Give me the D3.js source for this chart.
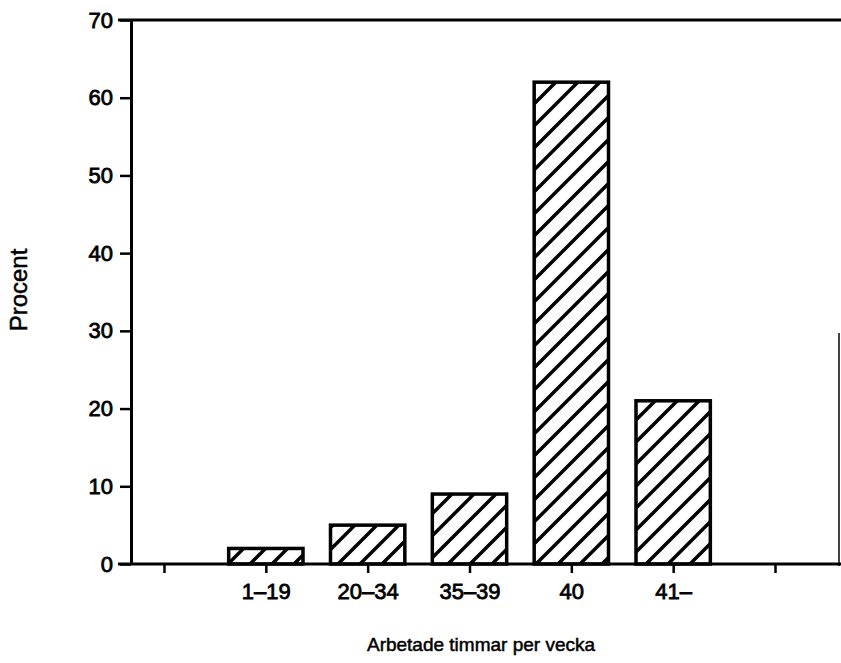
<!DOCTYPE html>
<html>
<head>
<meta charset="utf-8">
<title>Arbetade timmar per vecka</title>
<script src="https://d3js.org/d3.v7.min.js"></script>
<style>
  * { margin: 0; padding: 0; }
  body { background: #fff; }
  svg text { font-family: "Liberation Sans", Arial, sans-serif; fill: #000; }
</style>
</head>
<body>
<div id="chart"></div>
<script>
// data
const categories = ["1–19", "20–34", "35–39", "40", "41–"];
const values = [2, 5, 9, 62, 21];
const yTicks = [0, 10, 20, 30, 40, 50, 60, 70];

const width = 841, height = 663;

const svg = d3.select("#chart").append("svg")
  .attr("width", width)
  .attr("height", height);

// hatch pattern
const defs = svg.append("defs");
const h = 22;
defs.append("pattern")
  .attr("id", "hatch")
  .attr("patternUnits", "userSpaceOnUse")
  .attr("width", h).attr("height", h)
  .append("path")
  .attr("d", `M0,${h} L${h},0 M${-h/2},${h/2} L${h/2},${-h/2} M${h/2},${h*1.5} L${h*1.5},${h/2}`)
  .attr("stroke", "#000")
  .attr("stroke-width", 3.5);

// scales: empty slot before and after the categories
const slots = ["_a", ...categories, "_b"];
const x = d3.scalePoint().domain(slots).range([164, 775]);
const y = d3.scaleLinear().domain([0, 70]).range([564, 20]);
const barW = x.step() * 0.73;

// frame lines
svg.append("line")
  .attr("x1", 118).attr("x2", 841)
  .attr("y1", y(70)).attr("y2", y(70))
  .attr("stroke", "#000").attr("stroke-width", 3);

svg.append("line")
  .attr("x1", 839).attr("x2", 839)
  .attr("y1", 333).attr("y2", y(0) + 2)
  .attr("stroke", "#444").attr("stroke-width", 2);

// bars
svg.selectAll("rect.bar")
  .data(values)
  .join("rect")
  .attr("class", "bar")
  .attr("x", (d, i) => x(categories[i]) - barW / 2)
  .attr("y", d => y(d))
  .attr("width", barW)
  .attr("height", d => y(0) - y(d))
  .attr("fill", "url(#hatch)")
  .attr("stroke", "#000")
  .attr("stroke-width", 3.5);

// baseline
svg.append("line")
  .attr("x1", 118).attr("x2", 841)
  .attr("y1", y(0)).attr("y2", y(0))
  .attr("stroke", "#000").attr("stroke-width", 3);

// y axis
const yAxis = svg.append("g")
  .attr("transform", "translate(131,0)")
  .call(d3.axisLeft(y).tickValues(yTicks).tickSize(11).tickSizeOuter(0).tickPadding(7));
yAxis.select(".domain").attr("stroke-width", 3);
yAxis.selectAll(".tick line").attr("stroke-width", 2.5);
yAxis.selectAll(".tick text")
  .style("font-size", "22px")
  .attr("stroke", "#000").attr("stroke-width", 0.8);

// x axis
const xAxis = svg.append("g")
  .attr("transform", `translate(0,${y(0)})`)
  .call(d3.axisBottom(x).tickSize(9).tickSizeOuter(0).tickPadding(10)
    .tickFormat(d => d.startsWith("_") ? "" : d));
xAxis.select(".domain").remove();
xAxis.selectAll(".tick line").attr("stroke-width", 2.5);
xAxis.selectAll(".tick text")
  .style("font-size", "22px")
  .attr("stroke", "#000").attr("stroke-width", 0.8);

// axis titles
svg.append("text")
  .attr("x", 481).attr("y", 651)
  .attr("text-anchor", "middle")
  .style("font-size", "19px")
  .attr("stroke", "#000").attr("stroke-width", 0.5)
  .text("Arbetade timmar per vecka");

svg.append("text")
  .attr("transform", "translate(27,290) rotate(-90)")
  .attr("text-anchor", "middle")
  .style("font-size", "24px")
  .attr("stroke", "#000").attr("stroke-width", 0.5)
  .text("Procent");
</script>
</body>
</html>
